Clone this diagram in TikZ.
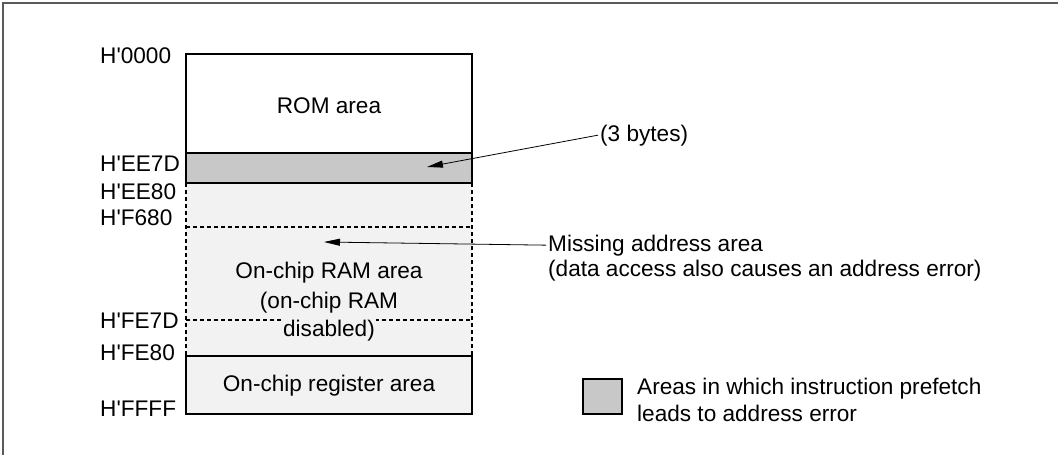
\documentclass[tikz,border=0pt]{standalone}
\usepackage{fontspec}
\setmainfont{Liberation Sans}[Ligatures=TeXOff]
\usetikzlibrary{arrows.meta,positioning}
\definecolor{prefetch}{HTML}{c8c8c8}
\definecolor{ramfill}{HTML}{f2f2f2}
\definecolor{framegray}{HTML}{5a5a5a}

\begin{document}
\begin{tikzpicture}[
    x=1pt, y=-1pt,
    >=Triangle,
    font=\fontsize{22.6}{27}\selectfont,
    area/.style={draw=black, line width=1.6pt},
    gap/.style={draw=black, line width=1.3pt, dash pattern=on 4pt off 3pt},
    addr/.style={anchor=base west, inner sep=0pt},
    inside/.style={anchor=base, inner sep=0pt, align=center},
    note/.style={anchor=base west, inner sep=2pt, align=left},
    callout/.style={-{Triangle[length=16pt, width=7pt]}, line width=0.8pt},
]

\def\xl{186}   % left edge of the map
\def\xr{472}   % right edge of the map
\def\xm{329}   % centre of the map

\useasboundingbox (0,0) rectangle (1058,455);

% outer frame (only top and left edges show)
\draw[framegray, line width=2pt] (1058,3) -- (3,3) -- (3,455);

% ── Memory map ──
\draw[area, fill=white] (\xl,54) rectangle (\xr,153);
\fill[ramfill] (\xl,183) rectangle (\xr,356);
\draw[gap] (\xl,183) -- (\xl,356);
\draw[gap] (\xr,183) -- (\xr,356);
\draw[gap] (\xl,227) -- (\xr,227);
\draw[gap] (\xl,320) -- (\xr,320);
\draw[area, fill=prefetch] (\xl,153) rectangle (\xr,183);
\draw[area, fill=ramfill] (\xl,356) rectangle (\xr,414);

\node[inside] (rom) at (\xm,113) {ROM area};
% base of a two-line node is its last line
\node[inside, execute at begin node={\setlength{\baselineskip}{30pt}}]
    (ram) at (\xm,308) {On-chip RAM area\\(on-chip RAM};
\node[inside, fill=ramfill, inner sep=1pt] (ramoff) at (\xm,336) {disabled)};
\node[inside] (regs) at (\xm,391) {On-chip register area};

% addresses
\node[addr] (a0000) at (100,63)  {H'0000};
\node[addr] (aee7d) at (100,171) {H'EE7D};
\node[addr] (aee80) at (100,199) {H'EE80};
\node[addr] (af680) at (100,225) {H'F680};
\node[addr] (afe7d) at (100,328) {H'FE7D};
\node[addr] (afe80) at (100,360) {H'FE80};
\node[addr] (affff) at (100,416) {H'FFFF};

% ── Callouts ──
\coordinate (bytestip) at (427,167);
\coordinate (missingtip) at (324,242);

\node[note] (bytes) at (598,141) {(3 bytes)};
\draw[callout] (bytes.west) -- (bytestip);

\node[note] (missing) at (546,251) {Missing address area};
\node[note] (missingnote) at (546,276) {(data access also causes an address error)};
\draw[callout] (missing.west) -- (missingtip);

% ── Legend ──
\draw[area, fill=prefetch] (583,379) rectangle (622,414);
\node[note, inner sep=0pt, execute at begin node={\setlength{\baselineskip}{27pt}}]
    (legend) at (637,421) {Areas in which instruction prefetch\\leads to address error};

\end{tikzpicture}
\end{document}
